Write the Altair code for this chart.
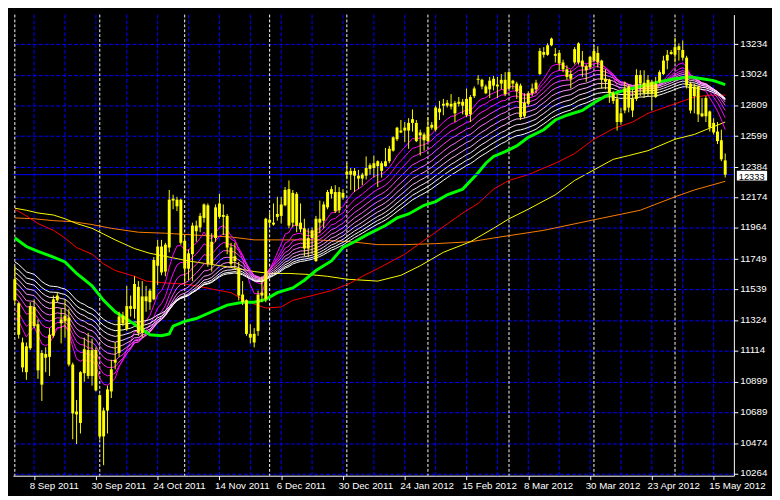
import json
import altair as alt
import pandas as pd

# ---------------- candles (bar index 0 .. 184) ----------------
opens = [11610,11444,11173,11146,11133,11285,11299,11100,11067,11073,11219,11464,11332,11318,11345,11020,10675,10616,10960,11120,
         10941,11120,10808,10523,10702,10834,11033,11100,11358,11265,11424,11405,11557,11239,11491,11451,11471,11703,11836,11663,
         11829,12154,12160,12160,11875,11683,11783,11981,11968,12034,12121,11716,11895,12041,12054,12048,11829,11736,11683,11504,
         11464,11232,11173,11252,11497,11471,12021,12001,12041,12048,12121,12233,12001,12200,12001,11962,11822,11948,11736,12001,
         12015,12107,12200,12213,12087,12207,12333,12359,12326,12326,12306,12326,12373,12379,12426,12412,12392,12426,12499,12578,
         12638,12638,12638,12691,12691,12605,12611,12565,12658,12644,12790,12810,12830,12804,12830,12823,12837,12744,12870,12876,
         12989,12989,12943,12923,12996,12943,12963,12989,12929,12983,12963,12949,12737,12823,12896,12923,13029,13181,13162,13228,
         13168,13175,13109,13062,13029,13109,13109,13122,13082,13075,13122,13175,13122,12996,12989,12896,12857,12697,12777,12943,
         12777,12857,13022,12969,12896,12976,12870,12976,13029,13122,13168,13162,13221,13195,13142,12963,12876,12943,12757,12737,
         12770,12691,12631,12571,12432]
highs = [11703,11451,11206,11173,11451,11471,11332,11120,11139,11272,11497,11517,11405,11471,11405,11033,10775,10974,11206,11239,
         11199,11139,10815,10722,10874,11053,11173,11385,11385,11564,11497,11630,11597,11597,11564,11544,11763,11882,11882,11862,
         12227,12194,12180,12167,11915,11816,12001,12015,12068,12134,12134,11928,12127,12200,12127,12061,11862,11862,11729,11597,
         11471,11299,11272,11531,11630,12035,12068,12134,12180,12180,12247,12293,12227,12213,12134,12028,11962,11968,12048,12154,
         12147,12227,12253,12260,12247,12233,12412,12379,12379,12366,12346,12459,12412,12465,12432,12426,12518,12532,12598,12664,
         12711,12697,12724,12784,12711,12644,12625,12731,12697,12810,12843,12857,12850,12890,12843,12870,12857,12929,12883,12943,
         13022,12996,12956,13009,13016,13009,13029,13042,13048,12989,12976,12963,12896,12910,12963,12989,13208,13215,13241,13281,
         13208,13195,13128,13089,13055,13215,13248,13188,13095,13155,13228,13221,13128,13062,12996,12910,12896,12797,12976,12956,
         12923,13062,13055,13055,13022,12989,13009,13055,13155,13195,13195,13281,13241,13261,13155,12976,12963,12949,12863,12876,
         12777,12724,12697,12644,12479]
lows = [11438,11199,10967,10914,11120,11272,10921,10768,10967,10941,11206,11451,11166,11206,11007,10503,10470,10543,10901,10921,
        10874,10834,10503,10324,10543,10788,10987,11073,11285,11252,11352,11338,11219,11206,11385,11398,11464,11570,11637,11630,
        11796,12094,12081,11849,11584,11603,11597,11869,11935,12001,11696,11663,11869,12028,11915,11783,11696,11683,11464,11431,
        11219,11166,11139,11219,11451,11451,11968,11981,12015,11995,12114,11962,11968,11935,11935,11769,11763,11783,11729,11928,
        11962,12094,12167,12068,12068,12160,12300,12227,12213,12233,12260,12300,12333,12313,12247,12313,12388,12412,12492,12565,
        12620,12558,12512,12631,12558,12465,12499,12558,12644,12631,12711,12744,12797,12784,12697,12804,12750,12731,12697,12863,
        12956,12923,12890,12863,12916,12863,12923,12876,12923,12923,12857,12711,12724,12810,12876,12896,13022,13142,13155,13221,
        13109,13055,13042,12989,12929,13095,13095,13009,12976,13062,13109,13075,12929,12923,12830,12823,12638,12678,12757,12764,
        12731,12843,12876,12863,12876,12777,12863,12963,13022,13062,13162,13109,13122,13122,12929,12757,12757,12697,12731,12697,
        12631,12611,12545,12426,12313]
closes = [11464,11226,11000,10967,11424,11418,10980,10881,11093,11226,11471,11497,11305,11358,11020,10682,10695,10967,11126,10941,
          11120,10841,10523,10702,10848,10987,11053,11352,11305,11424,11405,11577,11239,11491,11458,11531,11743,11836,11657,11849,
          12160,12167,12114,11862,11683,11789,11981,11942,12048,12127,11716,11869,12107,12134,12041,11829,11716,11769,11497,11451,
          11232,11206,11232,11504,11517,12028,12001,11988,12061,12127,12227,11981,12207,11981,11955,11822,11895,11895,12028,12028,
          12127,12213,12233,12081,12213,12174,12353,12333,12359,12306,12333,12379,12399,12412,12392,12359,12426,12512,12591,12658,
          12625,12658,12691,12717,12565,12625,12571,12664,12678,12797,12764,12823,12810,12823,12757,12837,12810,12857,12750,12929,
          12996,12943,12896,12983,12949,12956,12989,12890,13042,12963,12910,12731,12830,12896,12929,12969,13188,13162,13228,13274,
          13155,13102,13062,13009,12996,13201,13241,13082,13055,13148,13188,13109,12989,12976,12896,12843,12697,12757,12929,12797,
          12857,13022,12963,12896,12989,12890,12963,13042,13122,13162,13181,13215,13195,13142,12949,12777,12943,12750,12737,12863,
          12658,12625,12565,12439,12333]

# ---------------- axis text ----------------
x_tick_idx = [5, 21, 37, 53, 69, 85, 101, 117, 133, 149, 165, 181]
x_tick_lbl = ["8 Sep 2011", "30 Sep 2011", "24 Oct 2011", "14 Nov 2011", "6 Dec 2011", "30 Dec 2011",
              "24 Jan 2012", "15 Feb 2012", "8 Mar 2012", "30 Mar 2012", "23 Apr 2012", "15 May 2012"]
y_ticks = [10264, 10474, 10689, 10899, 11114, 11324, 11539, 11749, 11964, 12174, 12384, 12599, 12809, 13024, 13234]
month_starts = [0, 22, 44, 66, 86, 107, 128, 150, 171]
last_price = 12333

# ---------------- moving averages ----------------
green_i = [0,3,6,10,13,16,20,23,26,31,35,38,40,41,44,47,51,55,59,62,65,68,72,75,78,82,85,88,91,96,99,102,106,109,112,116,
           120,122,124,127,130,133,137,140,143,147,150,153,157,167,171,175,178,181,184]
green_v = [11895,11836,11802,11763,11729,11650,11564,11464,11385,11299,11226,11219,11232,11285,11318,11338,11385,11431,11451,11451,
           11471,11517,11550,11603,11670,11736,11829,11869,11915,11981,12034,12061,12121,12147,12194,12233,
           12346,12412,12459,12492,12532,12591,12644,12711,12744,12777,12830,12876,12910,12976,12996,13009,12996,12983,12956]
red_i = [0,3,6,10,13,16,20,23,26,31,34,39,44,47,52,56,59,62,65,69,72,77,82,87,90,94,101,109,116,120,124,128,133,140,145,150,
         155,160,164,171,176,180,184]
red_v = [12094,12048,11995,11948,11895,11829,11783,11716,11670,11630,11597,11584,11577,11564,11537,11517,11471,11438,11411,11418,
         11464,11497,11531,11584,11630,11683,11783,11935,12068,12134,12233,12293,12333,12412,12479,12578,
         12651,12697,12757,12823,12870,12883,12883]
yellow_i = [0,3,6,10,13,16,20,23,26,31,35,40,45,50,55,62,66,71,76,81,86,94,100,105,111,118,124,128,133,140,145,150,155,159,
            164,171,176,179,184]
yellow_v = [12101,12087,12068,12054,12028,11995,11962,11922,11882,11822,11789,11763,11736,11716,11696,11663,11650,11650,11643,
            11630,11610,11597,11637,11703,11796,11869,11962,12028,12094,12194,12293,12366,12439,12465,
            12499,12578,12611,12644,12697]
orange_i = [0,5,10,15,20,25,32,39,47,56,62,70,78,87,94,101,109,118,124,137,150,162,171,176,184]
orange_v = [12034,12028,12015,12008,11988,11962,11935,11928,11915,11902,11882,11882,11882,11869,11849,11849,11856,11869,11895,
            11948,12021,12087,12180,12227,12287]

# ribbon of exponential averages of the closes, started from the levels read at the first bar
ribbon_periods = [10, 15, 20, 25, 30, 35, 40, 45, 50, 55]
ribbon_start = [11345, 11398, 11478, 11517, 11551, 11590, 11623, 11657, 11690, 11730]
ribbon_colors = ["#FF00FF", "#FF00FF", "#FF1AFF", "#FF44FF", "#FF6EFF", "#FF96FF", "#FFBBFF", "#FFDDFF", "#FFFFFF", "#FFFFFF"]

# ---------------- build tables ----------------
n = len(closes)
candles = pd.DataFrame({"i": list(range(n)), "o": opens, "h": highs, "l": lows, "c": closes})

rib_rows = []
for k, (p, s) in enumerate(zip(ribbon_periods, ribbon_start)):
    a = 2.0 / (p + 1)
    e = s
    for i, cl in enumerate(closes):
        if i > 0:
            e = e + a * (cl - e)
        rib_rows.append({"i": i, "v": e, "k": k})
ribbon = pd.DataFrame(rib_rows)

W, H = 738, 472
xs = alt.Scale(domain=[-0.5, 186.25], nice=False, zero=False)
ys = alt.Scale(domain=[10251, 13440], nice=False, zero=False)
FONT = "Liberation Sans"

x_axis = alt.Axis(values=x_tick_idx, labelExpr=json.dumps(x_tick_lbl) + "[round((datum.value-5)/16)]",
                  orient="bottom", grid=False, domainColor="white", tickColor="white", tickSize=4,
                  labelColor="white", labelFont=FONT, labelFontSize=10, labelAlign="left", labelPadding=1,
                  labelOffset=-5, labelFlush=False, labelOverlap=False, title=None, labelBound=False)
y_axis = alt.Axis(values=y_ticks, format="d", orient="right", grid=True, gridColor="#0000FF",
                  gridDash=[4, 2], gridWidth=1, domainColor="white", tickColor="white", tickSize=4,
                  labelColor="white", labelFont=FONT, labelFontSize=10, labelPadding=2, labelOffset=-1,
                  labelFlush=False, labelOverlap=False, title=None)


def X(f="i"):
    return alt.X(f + ":Q", scale=xs, axis=x_axis)


def Y(f):
    return alt.Y(f + ":Q", scale=ys, axis=y_axis)


vgrid = alt.Chart(pd.DataFrame({"i": list(range(5, 186, 8))})).mark_rule(
    color="#0000FF", strokeDash=[4, 2], strokeWidth=1).encode(x=X())
months = alt.Chart(pd.DataFrame({"i": month_starts})).mark_rule(
    color="white", strokeDash=[3, 2], strokeWidth=1).encode(x=X())


def ma_line(idx, vals, color, width):
    return alt.Chart(pd.DataFrame({"i": idx, "v": vals})).mark_line(
        color=color, strokeWidth=width).encode(x=X(), y=Y("v"))


orange = ma_line(orange_i, orange_v, "#FF7F00", 1)
yellow = ma_line(yellow_i, yellow_v, "#FFFF00", 1)
red = ma_line(red_i, red_v, "#FF0000", 1)
green = ma_line(green_i, green_v, "#00FF00", 3)

rib = alt.Chart(ribbon).mark_line(strokeWidth=1).encode(
    x=X(), y=Y("v"),
    color=alt.Color("k:N", scale=alt.Scale(domain=list(range(len(ribbon_periods))), range=ribbon_colors), legend=None),
    order=alt.Order("i:Q"))

price_df = pd.DataFrame({"v": [last_price]})
price_line = alt.Chart(price_df).mark_rule(color="#0000FF", strokeWidth=1).encode(y=Y("v"))

wicks = alt.Chart(candles).mark_rule(color="#FFFF00", strokeWidth=1).encode(x=X(), y=Y("l"), y2="h:Q")
bodies = alt.Chart(candles).mark_rule(color="#FFFF00", strokeWidth=3, strokeCap="butt").encode(x=X(), y=Y("o"), y2="c:Q")

price_box = alt.Chart(price_df).mark_rule(color="white", strokeWidth=10, strokeCap="butt").encode(
    y=Y("v"), yOffset=alt.value(1), x=alt.value(W + 3), x2=alt.value(W + 34))
price_txt = alt.Chart(price_df).mark_text(
    color="black", font=FONT, fontSize=9.5, align="left", baseline="middle", dy=2).encode(
    y=Y("v"), x=alt.value(W + 5), text=alt.Text("v:Q", format="d"))

chart = alt.layer(vgrid, months, orange, yellow, red, rib, green, price_line, wicks, bodies, price_box, price_txt).properties(
    width=W, height=H, padding=0, background="#000000"
).configure_view(stroke=None, fill="#000000")

chart.save("out.html", embed_options={"renderer": "svg", "actions": False})
